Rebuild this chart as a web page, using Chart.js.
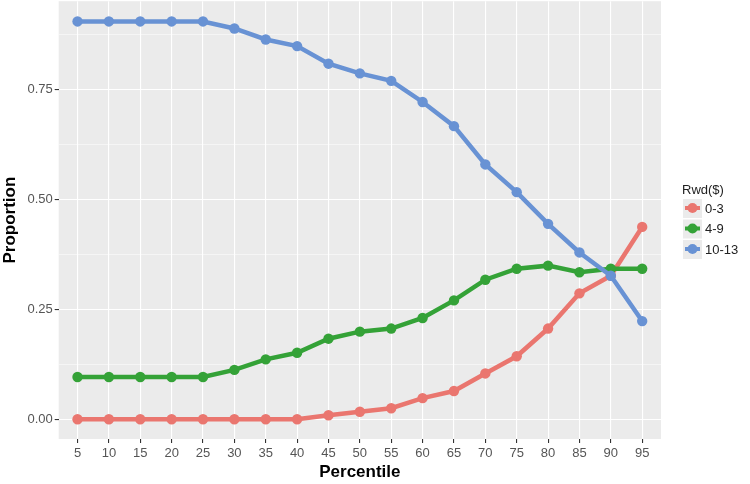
<!DOCTYPE html>
<html>
<head>
<meta charset="utf-8">
<script src="https://cdn.jsdelivr.net/npm/chart.js@4"></script>
<style>
  body { margin: 0; background: #fff; overflow: hidden; }
  #wrap { width: 750px; height: 488px; margin-top: -4px; }
</style>
</head>
<body>
<div id="wrap"><canvas id="lineChart"></canvas></div>
<script>
const percentiles = [5, 10, 15, 20, 25, 30, 35, 40, 45, 50, 55, 60, 65, 70, 75, 80, 85, 90, 95];
const seriesNames = ['0-3', '4-9', '10-13'];
const low = [0, 0, 0, 0, 0, 0, 0, 0, 0.009, 0.017, 0.025, 0.048, 0.064, 0.104, 0.143, 0.206, 0.286, 0.326, 0.437];
const mid = [0.096, 0.096, 0.096, 0.096, 0.096, 0.112, 0.136, 0.151, 0.183, 0.199, 0.206, 0.230, 0.270, 0.317, 0.342, 0.349, 0.334, 0.342, 0.342];
const high = [0.904, 0.904, 0.904, 0.904, 0.904, 0.888, 0.863, 0.848, 0.808, 0.786, 0.769, 0.721, 0.666, 0.579, 0.516, 0.444, 0.379, 0.326, 0.223];
const yTicks = [0, 0.25, 0.5, 0.75];
const colors = ['#EA766F', '#34A237', '#6892D4'];

const seriesValues = [low, mid, high];

const panelBg = {
    id: 'panelBg',
    beforeDraw(chart) {
        const { ctx, chartArea: a } = chart;
        ctx.save();
        ctx.fillStyle = '#EBEBEB';
        ctx.fillRect(a.left, a.top, a.right - a.left, a.bottom - a.top);
        ctx.restore();
    }
};

// ggplot-like legend on the right
const sideLegend = {
    id: 'sideLegend',
    afterDraw(chart) {
        const ctx = chart.ctx;
        const x = chart.chartArea.right + 22;
        let y = 194;
        ctx.save();
        ctx.font = '13px "Liberation Sans", Arial, sans-serif';
        ctx.fillStyle = '#222';
        ctx.textBaseline = 'middle';
        ctx.fillText('Rwd($)', x - 1, y);
        y += 18;
        chart.data.datasets.forEach(ds => {
            ctx.fillStyle = '#EBEBEB';
            ctx.fillRect(x, y - 9, 19, 19);
            ctx.strokeStyle = ds.borderColor;
            ctx.lineWidth = 4;
            ctx.beginPath();
            ctx.moveTo(x + 2, y);
            ctx.lineTo(x + 17, y);
            ctx.stroke();
            ctx.fillStyle = ds.borderColor;
            ctx.beginPath();
            ctx.arc(x + 9.5, y, 5, 0, Math.PI * 2);
            ctx.fill();
            ctx.fillStyle = '#222';
            ctx.fillText(ds.label, x + 22, y + 1);
            y += 20.5;
        });
        ctx.restore();
    }
};

const datasets = seriesNames.map((name, i) => ({
    label: name,
    data: percentiles.map((p, j) => ({ x: p, y: seriesValues[i][j] })),
    borderColor: colors[i],
    backgroundColor: colors[i],
    borderWidth: 4.5,
    pointRadius: 5.2,
    pointHoverRadius: 5.2,
    pointBorderWidth: 0,
    tension: 0,
    order: 3 - i
}));

const ctx = document.getElementById('lineChart').getContext('2d');
new Chart(ctx, {
    type: 'line',
    data: { datasets: datasets },
    options: {
        responsive: true,
        maintainAspectRatio: false,
        animation: false,
        layout: { padding: { top: 0, right: 89, bottom: 0, left: 0 } },
        plugins: {
            legend: { display: false },
            tooltip: { enabled: false }
        },
        scales: {
            x: {
                type: 'linear',
                min: 5 - 0.6 * 5,
                max: 95 + 0.6 * 5,
                afterBuildTicks: axis => {
                    axis.ticks = percentiles.map(v => ({ value: v }));
                },
                grid: {
                    color: '#FFFFFF',
                    lineWidth: 1.1,
                    drawTicks: true,
                    tickLength: 4,
                    tickColor: '#333333'
                },
                border: { display: false },
                ticks: {
                    color: '#555555',
                    font: { size: 13, family: '"Liberation Sans", Arial, sans-serif' },
                    padding: 3,
                    maxRotation: 0,
                    autoSkip: false
                },
                title: {
                    display: true,
                    text: 'Percentile',
                    color: '#000',
                    font: { size: 17, weight: 'bold', family: '"Liberation Sans", Arial, sans-serif' },
                    padding: { top: -2, bottom: 1 }
                }
            },
            y: {
                min: -0.045,
                max: 0.95,
                afterBuildTicks: axis => {
                    const t = [];
                    for (let v = 0; v <= 0.875 + 1e-9; v += 0.125) t.push({ value: v });
                    axis.ticks = t;
                },
                afterFit: axis => {
                    axis.paddingTop = 0;
                    axis.paddingBottom = 0;
                },
                grid: {
                    color: '#FFFFFF',
                    lineWidth: c => (yTicks.some(v => Math.abs(v - c.tick.value) < 1e-6) ? 1.1 : 0.5),
                    drawTicks: true,
                    tickLength: 4,
                    tickColor: c => (yTicks.some(v => Math.abs(v - c.tick.value) < 1e-6) ? '#333333' : 'rgba(0,0,0,0)')
                },
                border: { display: false },
                ticks: {
                    color: '#555555',
                    font: { size: 13, family: '"Liberation Sans", Arial, sans-serif' },
                    padding: 2,
                    autoSkip: false,
                    callback: v => (yTicks.some(t => Math.abs(t - v) < 1e-6) ? v.toFixed(2) : '')
                },
                title: {
                    display: true,
                    text: 'Proportion',
                    color: '#000',
                    font: { size: 17, weight: 'bold', family: '"Liberation Sans", Arial, sans-serif' },
                    padding: { top: 0, bottom: 5 }
                }
            }
        }
    },
    plugins: [panelBg, sideLegend]
});
</script>
</body>
</html>
